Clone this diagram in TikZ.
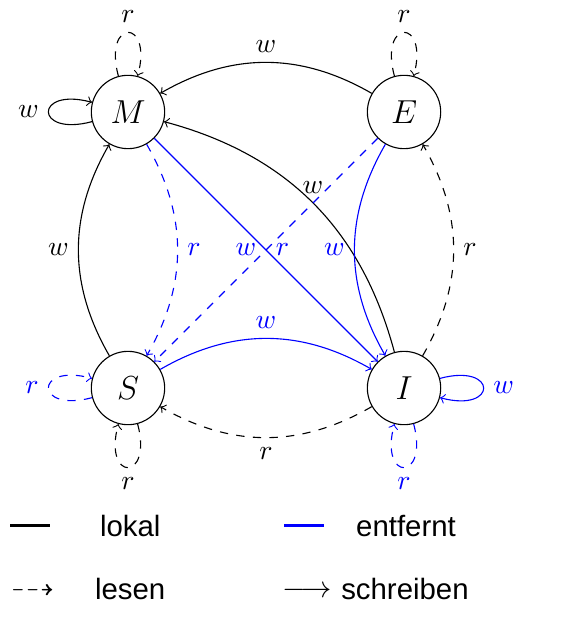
\documentclass[tikz,border=0pt]{standalone}
\usepackage{amssymb}
\usepackage{fontspec}
\usetikzlibrary{positioning}
\newfontfamily\legendfont{Liberation Sans}

\begin{document}
\begin{tikzpicture}[
        node distance=3.5cm, on grid,
        zustand/.style={circle, draw, minimum size=0.93cm, inner sep=0pt, font=\large},
        lokal/.style={black},
        entfernt/.style={blue},
        lesen/.style={->, dashed},
        schreiben/.style={->},
        every loop/.style={min distance=7mm},
        legende/.style={anchor=base west, inner sep=0pt, font=\legendfont\fontsize{10.6pt}{13pt}\selectfont},
        probe/.style={line width=1.2pt}
    ]
        \useasboundingbox (-1.623,1.420) rectangle (5.503,-6.581);
        \node[zustand] (M) {$M$};
        \node[zustand, right=of M] (E) {$E$};
        \node[zustand, below=of M] (S) {$S$};
        \node[zustand, right=of S] (I) {$I$};
        % lokale Zugriffe
        \draw[lokal, schreiben] (M) to[loop left] node[left] {$w$} ();
        \draw[lokal, lesen] (M) to[loop above] node[above] {$r$} ();
        \draw[lokal, lesen] (E) to[loop above] node[above] {$r$} ();
        \draw[lokal, lesen] (S) to[loop below] node[below] {$r$} ();
        \draw[lokal, schreiben] (E) to[bend right=30] node[above] {$w$} (M);
        \draw[lokal, schreiben] (I) to[bend right=30] node[above] {$w$} (M);
        \draw[lokal, schreiben] (S) to[bend left=30] node[left] {$w$} (M);
        \draw[lokal, lesen] (I) to[bend right=30] node[right] {$r$} (E);
        \draw[lokal, lesen] (I) to[bend left=30] node[below] {$r$} (S);
        % entfernte Zugriffe
        \draw[entfernt, lesen] (S) to[loop left] node[left] {$r$} ();
        \draw[entfernt, schreiben] (I) to[loop right] node[right] {$w$} ();
        \draw[entfernt, lesen] (I) to[loop below] node[below] {$r$} ();
        \draw[entfernt, lesen] (M) to[bend left=30] node[right] {$r$} (S);
        \draw[entfernt, schreiben] (M) -- node[left] {$w$} (I);
        \draw[entfernt, lesen] (E) -- node[right] {$r$} (S);
        \draw[entfernt, schreiben] (E) to[bend right=30] node[left] {$w$} (I);
        \draw[entfernt, schreiben] (S) to[bend left=30] node[above] {$w$} (I);
        % Legende
        \coordinate (lokA) at (-1.496,-5.246);
        \coordinate (lokB) at (-0.989,-5.246);
        \coordinate (entA) at (1.982,-5.246);
        \coordinate (entB) at (2.489,-5.246);
        \draw[lokal, probe] (lokA) -- (lokB);
        \draw[entfernt, probe] (entA) -- (entB);
        \node[legende] (lokT) at (-0.361,-5.377) {lokal};
        \node[legende] (entT) at (2.887,-5.377) {entfernt};
        \node[legende] (lesS) at (-1.495,-6.150) {$\dashrightarrow$};
        \node[legende] (lesT) at (-0.425,-6.179) {lesen};
        \node[legende] (schS) at (1.957,-6.150) {$\longrightarrow$};
        \node[legende] (schT) at (2.697,-6.179) {schreiben};
    \end{tikzpicture}
\end{document}
